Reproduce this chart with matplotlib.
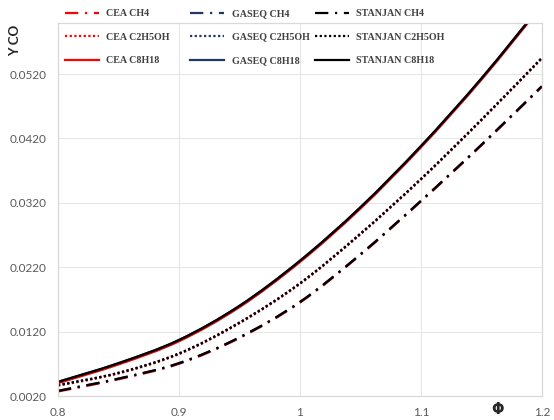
import matplotlib
matplotlib.use("Agg")
import matplotlib.pyplot as plt
from matplotlib.path import Path
from matplotlib.patches import PathPatch
from matplotlib.lines import Line2D
from matplotlib.ticker import FixedLocator, FormatStrFormatter

# Equivalence ratio
phi = [0.80, 0.85, 0.90, 0.95, 1.00, 1.05, 1.10, 1.15, 1.20]

# CO mole fraction, per fuel and per equilibrium code
stanjan_ch4 = [0.0028, 0.0047, 0.0071, 0.0111, 0.0166, 0.0240, 0.0323, 0.0410, 0.0501]
gaseq_ch4 = [0.0028, 0.0047, 0.0071, 0.0111, 0.0166, 0.0240, 0.0323, 0.0410, 0.0501]
cea_ch4 = [0.0027, 0.0046, 0.0070, 0.0110, 0.0165, 0.0239, 0.0322, 0.0409, 0.0500]

stanjan_c2h5oh = [0.0037, 0.0056, 0.0086, 0.0134, 0.0195, 0.0272, 0.0357, 0.0449, 0.0545]
gaseq_c2h5oh = [0.0037, 0.0056, 0.0086, 0.0134, 0.0195, 0.0272, 0.0357, 0.0449, 0.0545]
cea_c2h5oh = [0.0036, 0.0055, 0.0085, 0.0133, 0.0194, 0.0271, 0.0356, 0.0448, 0.0544]

stanjan_c8h18 = [0.0042, 0.0071, 0.0107, 0.0160, 0.0230, 0.0313, 0.0408, 0.0513, 0.0628]
gaseq_c8h18 = [0.0042, 0.0071, 0.0107, 0.0160, 0.0230, 0.0313, 0.0408, 0.0513, 0.0628]
cea_c8h18 = [0.0040, 0.0069, 0.0105, 0.0158, 0.0228, 0.0311, 0.0406, 0.0511, 0.0626]

x_ticks = [0.8, 0.9, 1.0, 1.1, 1.2]
x_tick_labels = ["0.8", "0.9", "1", "1.1", "1.2"]
y_ticks = [0.002, 0.012, 0.022, 0.032, 0.042, 0.052]

RED = "#FF0000"
NAVY = "#1F3864"
BLACK = "#000000"
GRID = "#E6E6E6"
TEXT = "#595959"

dashdot = (0, (6, 3, 1, 3))
dotted = (0, (1, 1.1))
LW = 1.6


def smooth_path(xs, ys):
    """Cubic Bezier path through the points (spreadsheet-style smoothed line)."""
    pts = list(zip(xs, ys))
    n = len(pts)
    verts = [pts[0]]
    codes = [Path.MOVETO]
    for i in range(n - 1):
        p0 = pts[i - 1] if i > 0 else pts[i]
        p1 = pts[i]
        p2 = pts[i + 1]
        p3 = pts[i + 2] if i + 2 < n else pts[i + 1]
        c1 = (p1[0] + (p2[0] - p0[0]) / 6, p1[1] + (p2[1] - p0[1]) / 6)
        c2 = (p2[0] - (p3[0] - p1[0]) / 6, p2[1] - (p3[1] - p1[1]) / 6)
        verts += [c1, c2, p2]
        codes += [Path.CURVE4] * 3
    return Path(verts, codes)


fig = plt.figure(figsize=(5.54, 4.20), dpi=100)
ax = fig.add_axes([0.1047, 0.0571, 0.8733, 0.8893])

groups = [
    ("CEA", RED, [("CH4", cea_ch4), ("C2H5OH", cea_c2h5oh), ("C8H18", cea_c8h18)]),
    ("GASEQ", NAVY, [("CH4", gaseq_ch4), ("C2H5OH", gaseq_c2h5oh), ("C8H18", gaseq_c8h18)]),
    ("STANJAN", BLACK, [("CH4", stanjan_ch4), ("C2H5OH", stanjan_c2h5oh), ("C8H18", stanjan_c8h18)]),
]
styles = {"CH4": dashdot, "C2H5OH": dotted, "C8H18": "-"}

legend_handles = []
for code, color, fuels in groups:
    col = []
    for fuel, vals in fuels:
        patch = PathPatch(smooth_path(phi, vals), facecolor="none", edgecolor=color,
                          linewidth=LW, linestyle=styles[fuel], capstyle="butt")
        ax.add_patch(patch)
        col.append(Line2D([], [], color=color, linewidth=LW, linestyle=styles[fuel],
                          dash_capstyle="butt", label=f"{code} {fuel}"))
    legend_handles.append(col)

ax.set_xlim(0.8, 1.2)
ax.set_ylim(0.002, 0.060)
ax.xaxis.set_major_locator(FixedLocator(x_ticks))
ax.set_xticklabels(x_tick_labels)
ax.yaxis.set_major_locator(FixedLocator(y_ticks))
ax.yaxis.set_major_formatter(FormatStrFormatter("%.4f"))
ax.grid(True, color=GRID, linewidth=0.75)
ax.set_axisbelow(True)
for sp in ax.spines.values():
    sp.set_color("#D9D9D9")
    sp.set_linewidth(0.9)
ax.tick_params(length=0, pad=8, labelsize=8.5, labelcolor=TEXT)
for t in ax.get_xticklabels() + ax.get_yticklabels():
    t.set_fontfamily("Lato")

fig.text(15 / 554, 1 - 40 / 420, "Y CO", rotation=90, ha="center", va="center",
         fontsize=9.5, fontweight="bold", family="Lato", color="#262626")
fig.text(497 / 554, 1 - 410 / 420, "Φ", ha="center", va="center",
         fontsize=10.5, fontweight="bold", family="DejaVu Sans", color="#262626")

# One legend column per code
col_x = [65, 190, 315]
for x0, col in zip(col_x, legend_handles):
    leg = fig.legend(handles=col, loc="upper left", bbox_to_anchor=(x0 / 554, 1 - 9 / 420),
                     frameon=False, borderpad=0, borderaxespad=0,
                     prop={"family": "Liberation Serif", "weight": "bold", "size": 7.2},
                     handlelength=3.4, handletextpad=0.75, labelspacing=1.45)
    for t in leg.get_texts():
        t.set_color("#404040")

fig.savefig("out.png", dpi=100)
